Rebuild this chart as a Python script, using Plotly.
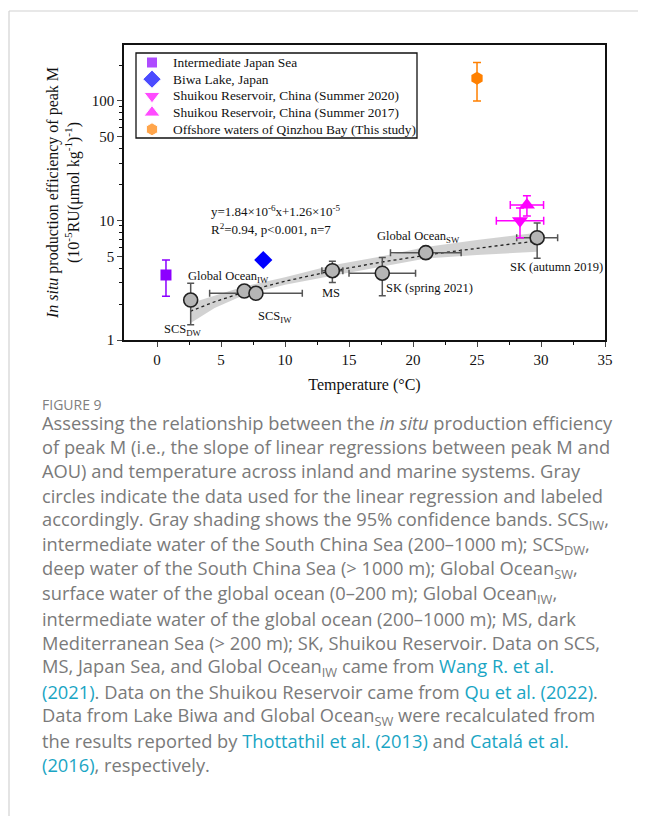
import numpy as np
import plotly.graph_objects as go

# ---------------- data ----------------
# gray circles (regression data)
reg_names = ["SCS_DW", "Global Ocean_IW", "SCS_IW", "MS", "SK (spring 2021)", "Global Ocean_SW", "SK (autumn 2019)"]
reg_temp = [2.63, 6.82, 7.73, 13.7, 17.6, 21.0, 29.7]
reg_eff = [2.16, 2.57, 2.46, 3.80, 3.62, 5.38, 7.18]
reg_eff_err = [0.82, 0.0, 0.26, 0.77, 1.27, 0.60, 2.35]
reg_temp_err = [0.0, 0.0, 3.62, 0.82, 2.60, 2.76, 1.60]

# other systems
japan_temp, japan_eff, japan_eff_err = [0.7], [3.5], [1.18]
biwa_temp, biwa_eff = [8.3], [4.67]
sk2020_temp, sk2020_eff, sk2020_eff_err, sk2020_temp_err = [28.36], [9.95], [2.77], [1.85]
sk2017_temp, sk2017_eff, sk2017_eff_err, sk2017_temp_err = [28.9], [13.5], [2.6], [1.3]
qz_temp, qz_eff, qz_eff_err = [25.0], [155.0], [55.0]

# regression (from the annotation): y = 1.84e-6 x + 1.26e-5  (units of 1e-5)
fit_slope = 0.184
fit_intercept = 1.26
fit_range = [2.6, 29.7]

# 95% confidence band
band_temp = [2.6, 4.5, 6.8, 10.0, 13.7, 17.5, 21.0, 25.0, 29.7]
band_low = [1.38, 1.85, 2.38, 2.90, 3.45, 4.10, 4.80, 5.15, 5.48]
band_high = [2.03, 2.35, 2.80, 3.35, 4.22, 5.00, 6.00, 6.85, 7.90]

legend_names = ["Intermediate Japan Sea", "Biwa Lake, Japan",
                "Shuikou Reservoir, China (Summer 2020)", "Shuikou Reservoir, China (Summer 2017)",
                "Offshore waters of Qinzhou Bay (This study)"]
legend_symbols = ["square", "diamond", "triangle-down", "triangle-up", "hexagon"]
legend_colors = ["#8c00ff", "#0000ff", "#ff00ff", "#ff00ff", "#ff8000"]
legend_sizes = [11, 14, 14, 14, 13]

ytick_vals = [1, 5, 10, 50, 100]
xtick_vals = [0, 5, 10, 15, 20, 25, 30, 35]

SERIF = "Liberation Serif"
GRAY_ERR = "#555555"

# page body has an 8px margin: work in reference-pixel coordinates, shifted
OFF = 8
FIG_W, FIG_H = 646 - OFF, 816 - OFF
L, R, T, B = 124 - OFF, 605 - OFF, 45 - OFF, 340 - OFF
W_, H_ = R - L, B - T
def py(pix):
    return (B - (pix - OFF)) / H_
def px(pix):
    return ((pix - OFF) - L) / W_

fig = go.Figure()

# confidence band
fig.add_trace(go.Scatter(x=band_temp, y=band_low, mode="lines", line=dict(width=0),
                         showlegend=False, hoverinfo="skip"))
fig.add_trace(go.Scatter(x=band_temp, y=band_high, mode="lines", line=dict(width=0),
                         fill="tonexty", fillcolor="rgba(195,195,195,0.75)",
                         showlegend=False, hoverinfo="skip"))

# fit line
fx = np.linspace(fit_range[0], fit_range[1], 80)
fig.add_trace(go.Scatter(x=fx, y=fit_slope * fx + fit_intercept, mode="lines",
                         line=dict(color="#222222", width=1.3, dash="dot"),
                         showlegend=False, hoverinfo="skip"))

# gray regression circles
fig.add_trace(go.Scatter(
    x=reg_temp, y=reg_eff, mode="markers", showlegend=False,
    marker=dict(symbol="circle", size=14, color="#b5b5b5", line=dict(color="#222222", width=1.6)),
    error_y=dict(type="data", array=reg_eff_err, color=GRAY_ERR, thickness=1.5, width=3.5),
    error_x=dict(type="data", array=reg_temp_err, color=GRAY_ERR, thickness=1.5, width=3.5),
))

# other series
fig.add_trace(go.Scatter(
    x=japan_temp, y=japan_eff, mode="markers", name=legend_names[0], showlegend=False,
    marker=dict(symbol="square", size=11, color=legend_colors[0]),
    error_y=dict(type="data", array=japan_eff_err, color=legend_colors[0], thickness=1.5, width=4),
))
fig.add_trace(go.Scatter(
    x=biwa_temp, y=biwa_eff, mode="markers", name=legend_names[1], showlegend=False,
    marker=dict(symbol="diamond", size=14, color=legend_colors[1]),
))
fig.add_trace(go.Scatter(
    x=sk2020_temp, y=sk2020_eff, mode="markers", name=legend_names[2], showlegend=False,
    marker=dict(symbol="triangle-down", size=14, color=legend_colors[2]),
    error_y=dict(type="data", array=sk2020_eff_err, color=legend_colors[2], thickness=1.5, width=4),
    error_x=dict(type="data", array=sk2020_temp_err, color=legend_colors[2], thickness=1.5, width=4),
))
fig.add_trace(go.Scatter(
    x=sk2017_temp, y=sk2017_eff, mode="markers", name=legend_names[3], showlegend=False,
    marker=dict(symbol="triangle-up", size=14, color=legend_colors[3]),
    error_y=dict(type="data", array=sk2017_eff_err, color=legend_colors[3], thickness=1.5, width=4),
    error_x=dict(type="data", array=sk2017_temp_err, color=legend_colors[3], thickness=1.5, width=4),
))
fig.add_trace(go.Scatter(
    x=qz_temp, y=qz_eff, mode="markers", name=legend_names[4], showlegend=False,
    marker=dict(symbol="hexagon", size=13, color=legend_colors[4]),
    error_y=dict(type="data", array=qz_eff_err, color=legend_colors[4], thickness=1.5, width=4),
))

# custom legend (overlay axes spanning plot area, range 0..1)
leg_left, leg_top, leg_right, leg_bottom = 136, 53, 417, 138
leg_row0, leg_dy = 62.5, 16.7
leg_marker_x, leg_text_x = 152, 171
fig.add_shape(type="rect", xref="paper", yref="paper",
              x0=px(leg_left), x1=px(leg_right), y0=py(leg_bottom), y1=py(leg_top),
              line=dict(color="#111111", width=1.3), fillcolor="white", layer="below")
fig.add_trace(go.Scatter(
    x=[px(leg_marker_x)] * len(legend_names),
    y=[py(leg_row0 + i * leg_dy) for i in range(len(legend_names))],
    xaxis="x2", yaxis="y2", mode="markers", showlegend=False, hoverinfo="skip", cliponaxis=False,
    marker=dict(symbol=legend_symbols, color=legend_colors, size=legend_sizes),
))
for i, nm in enumerate(legend_names):
    fig.add_annotation(xref="paper", yref="paper", x=px(leg_text_x), y=py(leg_row0 + i * leg_dy),
                       xanchor="left", yanchor="middle", text=nm, showarrow=False,
                       font=dict(family=SERIF, size=13.4, color="#111111"))

# point labels (data coords; y as log10)
labels = [
    ("SCS<sub>DW</sub>", 2.0, 1.21),
    ("Global Ocean<sub>IW</sub>", 5.6, 3.38),
    ("SCS<sub>IW</sub>", 9.2, 1.57),
    ("MS", 13.6, 2.46),
    ("SK (spring 2021)", 21.3, 2.71),
    ("Global Ocean<sub>SW</sub>", 20.4, 7.23),
    ("SK (autumn 2019)", 31.2, 4.11),
]
for txt, lx, ly in labels:
    fig.add_annotation(x=lx, y=np.log10(ly), text=txt, showarrow=False,
                       font=dict(family=SERIF, size=12.5, color="#111111"))

fig.add_annotation(x=4.05, y=1.08, text="y=1.84×10<sup>-6</sup>x+1.26×10<sup>-5</sup>",
                   xanchor="left", showarrow=False, font=dict(family=SERIF, size=13, color="#111111"))
fig.add_annotation(x=4.05, y=0.93, text="R<sup>2</sup>=0.94, p<0.001, n=7",
                   xanchor="left", showarrow=False, font=dict(family=SERIF, size=13, color="#111111"))

# ---------------- caption ----------------
CAP = "#7a7a7a"
LINK = "#1aa5c4"
def link(s):
    return f"<span style='color:{LINK}'>{s}</span>"

fig.add_annotation(xref="paper", yref="paper", x=px(40), y=py(404), xanchor="left", yanchor="middle",
                   text="FIGURE 9", showarrow=False, font=dict(family="Open Sans", size=14, color="#808080"))

cap_lines = [
    "Assessing the relationship between the <i>in situ</i> production efficiency",
    "of peak M (i.e., the slope of linear regressions between peak M and",
    "AOU) and temperature across inland and marine systems. Gray",
    "circles indicate the data used for the linear regression and labeled",
    "accordingly. Gray shading shows the 95% confidence bands. SCS<sub>IW</sub>,",
    "intermediate water of the South China Sea (200–1000 m); SCS<sub>DW</sub>,",
    "deep water of the South China Sea (> 1000 m); Global Ocean<sub>SW</sub>,",
    "surface water of the global ocean (0–200 m); Global Ocean<sub>IW</sub>,",
    "intermediate water of the global ocean (200–1000 m); MS, dark",
    "Mediterranean Sea (> 200 m); SK, Shuikou Reservoir. Data on SCS,",
    "MS, Japan Sea, and Global Ocean<sub>IW</sub> came from " + link("Wang R. et al."),
    link("(2021)") + ". Data on the Shuikou Reservoir came from " + link("Qu et al. (2022)") + ".",
    "Data from Lake Biwa and Global Ocean<sub>SW</sub> were recalculated from",
    "the results reported by " + link("Thottathil et al. (2013)") + " and " + link("Catalá et al."),
    link("(2016)") + ", respectively.",
]
y0, dy = 422, 24.5
for i, line in enumerate(cap_lines):
    fig.add_annotation(xref="paper", yref="paper", x=px(40), y=py(y0 + i * dy), xanchor="left",
                       yanchor="middle", text=line, showarrow=False, align="left",
                       font=dict(family="Open Sans", size=18.3, color=CAP))

# outer light frame
fig.add_shape(type="line", xref="paper", yref="paper", x0=px(9), x1=px(670), y0=py(11), y1=py(11),
              line=dict(color="#d2d2d2", width=1.2), layer="above")
fig.add_shape(type="line", xref="paper", yref="paper", x0=px(9), x1=px(9), y0=py(11), y1=py(840),
              line=dict(color="#d2d2d2", width=1.2), layer="above")

fig.update_layout(
    width=FIG_W, height=FIG_H,
    margin=dict(l=L, r=FIG_W - R, t=T, b=FIG_H - B),
    paper_bgcolor="white", plot_bgcolor="white",
    font=dict(family=SERIF, size=14, color="#111111"),
    showlegend=False,
    xaxis2=dict(overlaying="x", range=[0, 1], visible=False, fixedrange=True),
    yaxis2=dict(overlaying="y", range=[0, 1], visible=False, fixedrange=True),
)
fig.update_layout(xaxis=dict(
    range=[-2.58, 35], tickvals=xtick_vals, ticks="outside", ticklen=5, tickwidth=1.2, automargin=False,
    showline=True, linecolor="#111111", linewidth=1.5, mirror=True, showgrid=False, zeroline=False,
    tickfont=dict(family=SERIF, size=15, color="#111111"),
    minor=dict(tickvals=[2.5, 7.5, 12.5, 17.5, 22.5, 27.5, 32.5], ticks="outside", ticklen=3, tickcolor="#111111"),
    title=dict(text="Temperature (°C)", font=dict(family=SERIF, size=16, color="#111111"), standoff=12),
))
fig.update_layout(yaxis=dict(
    type="log", range=[0, np.log10(294)], tickvals=ytick_vals, ticktext=[str(v) for v in ytick_vals],
    ticks="outside", ticklen=5, tickwidth=1.2, automargin=False,
    showline=True, linecolor="#111111", linewidth=1.5, mirror=True, showgrid=False, zeroline=False,
    tickfont=dict(family=SERIF, size=15, color="#111111"),
    minor=dict(tickvals=[2, 3, 4, 6, 7, 8, 9, 20, 30, 40, 60, 70, 80, 90, 200],
               ticks="outside", ticklen=3, tickcolor="#111111"),
    title=dict(text="<i>In situ</i> production efficiency of peak M<br>(10<sup>-5</sup>RU(μmol kg<sup>-1</sup>)<sup>-1</sup>)",
               font=dict(family=SERIF, size=16, color="#111111"), standoff=8),
))

fig.write_html("out.html")
